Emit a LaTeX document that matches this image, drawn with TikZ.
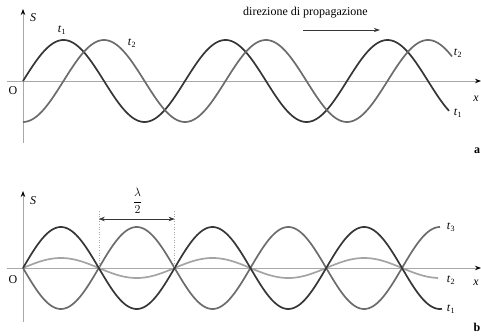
\documentclass[tikz,border=0pt]{standalone}
\usepackage{fontspec}
\setmainfont{Liberation Serif}
\usetikzlibrary{arrows.meta}
\definecolor{cdark}{HTML}{363636}
\definecolor{cmid}{HTML}{6C6C6C}
\definecolor{clight}{HTML}{A4A4A4}
\definecolor{caxis}{HTML}{A8A8A8}
\newcommand\tlab[1]{\textit{t}\textsubscript{#1}}
\tikzset{
  axis/.style={draw=caxis, line width=0.9pt},
  axarrow/.style={axis, -{Stealth[length=6pt,width=4.5pt,color=black,fill=black]}},
  wave/.style={line width=1.7pt, smooth, samples=220},
  lbl/.style={inner sep=0pt, font=\fontsize{12}{13}\selectfont},
  guide/.style={draw=caxis, line width=0.6pt, dotted},
}
\begin{document}
\begin{tikzpicture}[x=1pt,y=-1pt]
\useasboundingbox (0,0) rectangle (481,336);
% ---------- panel a ----------
\coordinate (axL) at (7,81);
\coordinate (axR) at (481,81);
\coordinate (ayB) at (23,143);
\coordinate (ayT) at (23,9);
\draw[axarrow] (axL) -- (axR);
\draw[axarrow] (ayB) -- (ayT);
\draw[wave, cdark, domain=23:449] plot (\x, {81 - 41*sin(2.22222*(\x-23))});
\draw[wave, cmid, domain=23:452] plot (\x, {81 + 41*cos(2.22222*(\x-23))});
\node[lbl, font=\fontsize{12}{13}\selectfont\itshape] (Sa) at (33,18) {S};
\node[lbl] (Oa) at (13,91) {O};
\node[lbl] (xa) at (476,99) {\textit{x}};
\node[lbl] (t1a) at (62,30) {\tlab{1}};
\node[lbl] (t2a) at (132,43) {\tlab{2}};
\node[lbl] (t2ae) at (458,53) {\tlab{2}};
\node[lbl] (t1ae) at (458,113) {\tlab{1}};
\node[lbl, font=\fontsize{12}{13}\selectfont\bfseries] (pa) at (477,151) {a};
\node[lbl, anchor=base east] (dir) at (368,16) {direzione di propagazione};
\coordinate (dirL) at (303,30);
\coordinate (dirR) at (380,30);
\draw[line width=0.7pt, draw=cdark, -{Stealth[length=6pt,width=4pt]}] (dirL) -- (dirR);
% ---------- panel b ----------
\coordinate (bxL) at (7,268);
\coordinate (bxR) at (481,268);
\coordinate (byB) at (23,322);
\coordinate (byT) at (23,191);
\draw[axarrow] (bxL) -- (bxR);
\draw[axarrow] (byB) -- (byT);
\draw[wave, clight, domain=23:438] plot (\x, {268 - 10*sin(2.37467*(\x-23))});
\draw[wave, cmid, domain=23:440] plot (\x, {268 + 41*sin(2.37467*(\x-23))});
\draw[wave, cdark, domain=23:442] plot (\x, {268 - 41*sin(2.37467*(\x-23))});
\node[lbl, font=\fontsize{12}{13}\selectfont\itshape] (Sb) at (33,201) {S};
\node[lbl] (Ob) at (13,280) {O};
\node[lbl] (xb) at (476,283) {\textit{x}};
\node[lbl] (t3b) at (451,227) {\tlab{3}};
\node[lbl] (t2b) at (451,280) {\tlab{2}};
\node[lbl] (t1b) at (451,309) {\tlab{1}};
\node[lbl, font=\fontsize{12}{13}\selectfont\bfseries] (pb) at (477,327) {b};
% lambda/2 dimension
\coordinate (g1t) at (98.8,211);
\coordinate (g1b) at (98.8,268);
\coordinate (g2t) at (174.6,211);
\coordinate (g2b) at (174.6,268);
\draw[guide] (g1t) -- (g1b);
\draw[guide] (g2t) -- (g2b);
\coordinate (d1) at (98.8,219);
\coordinate (d2) at (174.6,219);
\draw[line width=0.7pt, draw=cdark, {Stealth[length=6pt,width=4.5pt]}-{Stealth[length=6pt,width=4.5pt]}] (d1) -- (d2);
\node[inner sep=0pt, font=\fontsize{12}{14}\selectfont] (lam) at (137.5,201) {$\displaystyle\frac{\lambda}{2}$};
\end{tikzpicture}
\end{document}
